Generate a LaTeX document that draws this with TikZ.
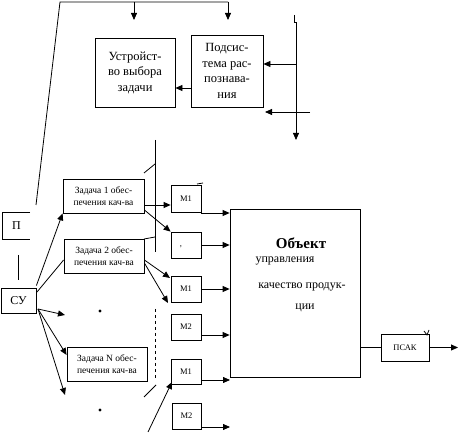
\documentclass[tikz,border=0pt]{standalone}
\usepackage{fontspec}
\setmainfont{Liberation Serif}
\usetikzlibrary{arrows.meta}
\begin{document}
\begin{tikzpicture}[x=1pt,y=-1pt,
  ln/.style={line width=0.8pt},
  arr/.style={ln,-{Triangle[length=7pt,width=6pt]}},
  bx/.style={draw,ln,inner sep=0pt,align=center},
  big/.style={font=\fontsize{12.5}{15.5}\selectfont},
  mid/.style={font=\fontsize{9.5}{12}\selectfont},
  sml/.style={font=\fontsize{8.5}{10}\selectfont}]
\useasboundingbox (0,0) rectangle (459,433);
% top boxes
\node[bx,big,minimum width=80pt,minimum height=69pt] (uvz) at (135,72.5) {Устройст-\\во выбора\\задачи};
\node[bx,big,minimum width=72pt,minimum height=72pt] (ps) at (227,71) {Подсис-\\тема рас-\\познава-\\ния};
% task boxes
\node[bx,mid,minimum width=81pt,minimum height=34pt] (z1) at (103.5,196) {Задача 1 обес-\\печения кач-ва};
\node[bx,mid,minimum width=80pt,minimum height=34pt] (z2) at (104,256) {Задача 2 обес-\\печения кач-ва};
\node[bx,mid,minimum width=80pt,minimum height=34pt] (zN) at (107,364) {Задача N обес-\\печения кач-ва};
% П and СУ
\node[inner sep=0pt,minimum width=27pt,minimum height=26pt,font=\fontsize{12}{14}\selectfont] (P) at (16.5,226) {П};
\draw[ln] (P.north east) -- (P.north west) -- (P.south west) -- (P.south east);
\node[bx,minimum width=35pt,minimum height=25pt,font=\fontsize{12}{14}\selectfont] (SU) at (18.5,300.5) {СУ};
% M boxes
\node[bx,sml,minimum width=30pt,minimum height=27pt] (m1a) at (186,198.5) {М1};
\node[bx,sml,minimum width=30pt,minimum height=26pt] (m1b) at (186,245) {};
\node[sml] (comma) at (181,247) {,};
\node[bx,sml,minimum width=30pt,minimum height=26pt] (m1c) at (186,289) {М1};
\node[bx,sml,minimum width=30pt,minimum height=26pt] (m2c) at (186,327) {М2};
\node[bx,sml,minimum width=30pt,minimum height=25pt] (m1d) at (186,371.5) {М1};
\node[bx,sml,minimum width=29pt,minimum height=26pt] (m2d) at (186.5,416) {М2};
% object
\node[bx,minimum width=130pt,minimum height=168pt] (obj) at (295,293) {};
\node[font=\bfseries\fontsize{15}{18}\selectfont] (t1) at (301,243) {Объект};
\node[font=\fontsize{12}{14}\selectfont] (t2) at (285,261) {управления};
\node[font=\fontsize{12}{14}\selectfont] (t3) at (302,287) {качество продук-};
\node[font=\fontsize{12}{14}\selectfont] (t4) at (305,308) {ции};
\node[bx,sml,minimum width=48pt,minimum height=27pt] (psak) at (405,347.5) {ПСАК};
% coordinates
\coordinate (a0) at (60,2);
\coordinate (a1) at (228,2);
\coordinate (a2) at (134,2);
\coordinate (a3) at (36,205);
\coordinate (v0) at (294,15);
\coordinate (v1) at (296,140);
\coordinate (h1) at (310,112);
\coordinate (h2) at (265,112);
% top connectors
\draw[ln] (a3) -- (a0) -- (a1);
\draw[arr] (a2) -- (134,20);
\draw[arr] (a1) -- (228,20);
\draw[arr] (v0) -- (294,22) -- (296,22) -- (v1);
\draw[arr] (296,64) -- (ps.east |- 0,64);
\draw[arr] (h1) -- (h2);
\draw[arr] (ps.west |- 0,88) -- (uvz.east |- 0,88);
% separators
\draw[ln] (155,140) -- (155,252);
\draw[ln] (144,173) -- (155,164);
\draw[ln] (144,239) -- (155,237);
\draw[ln,dashed] (155,309) -- (155,380);
\draw[ln] (144,397) -- (156,385);
\draw[ln] (18,255) -- (18,280);
% from tasks to M
\draw[arr] (z1.east |- 0,205) -- (m1a.west |- 0,205);
\draw[arr] (z1.east |- 0,210) -- (m1b.north west);
\draw[arr] (z2.east |- 0,260) -- (170,278);
\draw[arr] (z2.east |- 0,263) -- (168,303);
\draw[arr] (148,432) -- (172,382);
% M outputs
\draw[arr] (201,213) -- (obj.west |- 0,213);
\draw[arr] (m1b.east) -- (obj.west |- m1b.east);
\draw[arr] (m1c.east) -- (obj.west |- m1c.east);
\draw[arr] (m2c.east |- 0,335) -- (obj.west |- 0,335);
\draw[arr] (m1d.east |- 0,380) -- (230,380);
\draw[arr] (m2d.east |- 0,427) -- (230,427);
% object to ПСАК
\draw[ln] (obj.east |- psak.west) -- (psak.west);
\draw[arr] (psak.east) -- (458,347.5);
\draw[ln] (197,184) -- (203,183);
\draw[ln] (424,331) -- (427,335) -- (429,330);
% from СУ
\draw[arr] (SU.north east) ++(0,-2) -- (z1.south west);
\draw[ln] (37,292) -- (z2.west |- 0,260);
\draw[arr] (38,309) -- (65,315);
\draw[arr] (38,309) -- (zN.west |- 0,355);
\draw[arr] (38,309) -- (65,395);
% dots
\fill (100,311) circle (1.6pt);
\fill (100,410) circle (1.6pt);
\end{tikzpicture}
\end{document}
